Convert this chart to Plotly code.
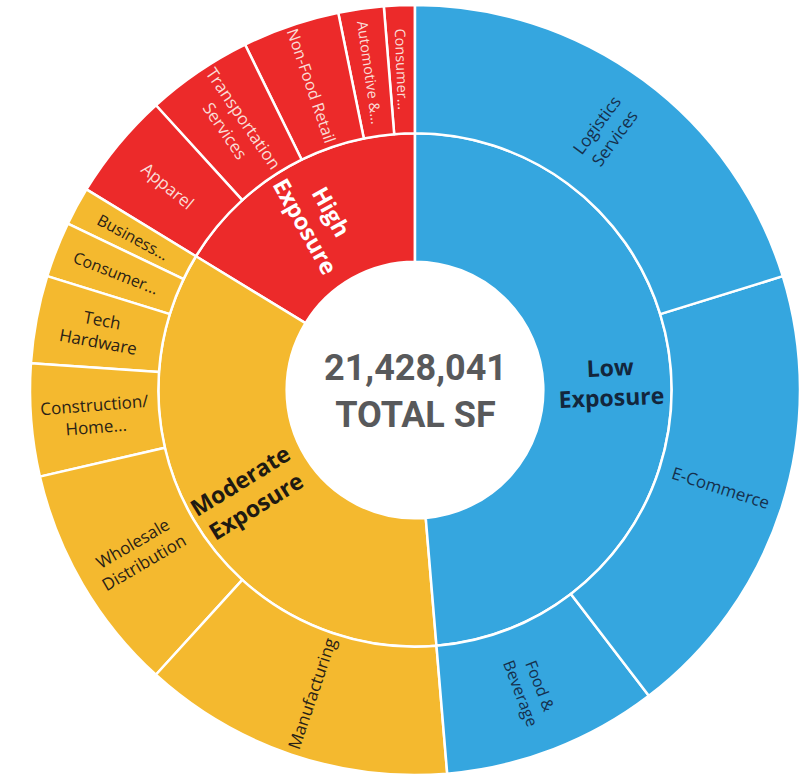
import math
import plotly.graph_objects as go

# ---- data (SF) ----
total_sf = 21428041
groups = ["Low Exposure", "Moderate Exposure", "High Exposure"]
low_labels = ["Logistics Services", "E-Commerce", "Food & Beverage"]
low_values = [4333241, 4154700, 1940400]
mod_labels = ["Manufacturing", "Wholesale Distribution", "Construction/Home...",
              "Tech Hardware", "Consumer...", "Business..."]
mod_values = [2803500, 2065400, 1011900, 785700, 500000, 345200]
high_labels = ["Apparel", "Transportation Services", "Non-Food Retail",
               "Automotive &...", "Consumer..."]
high_values = [970200, 958300, 875000, 407700, 276800]

# display text (line breaks)
low_text = ["Logistics<br>Services", "E-Commerce", "Food &<br>Beverage"]
mod_text = ["Manufacturing", "Wholesale<br>Distribution", "Construction/<br>Home...",
            "Tech<br>Hardware", "Consumer...", "Business..."]
high_text = ["Apparel", "Transportation<br>Services", "Non-Food Retail",
             "Automotive &...", "Consumer..."]
group_text = ["<b>Low<br>Exposure</b>", "<b>Moderate<br>Exposure</b>", "<b>High<br>Exposure</b>"]
low_fs = [17, 17, 16]
mod_fs = [17, 17, 17, 17, 16, 16]
high_fs = [17, 17, 16, 14.5, 14.5]

BLUE, YELLOW, RED = "#35A6DF", "#F4B92F", "#EC2A2A"
colors_g = {"Low Exposure": BLUE, "Moderate Exposure": YELLOW, "High Exposure": RED}
txtcol_g = {"Low Exposure": "#13263c", "Moderate Exposure": "#1f1a12", "High Exposure": "#ffffff"}
childtxt = {"Low Exposure": "#15304d", "Moderate Exposure": "#2a2216", "High Exposure": "#fadcd6"}

children = {
    "Low Exposure": (low_labels, low_values, low_text, low_fs),
    "Moderate Exposure": (mod_labels, mod_values, mod_text, mod_fs),
    "High Exposure": (high_labels, high_values, high_text, high_fs),
}

ids, labels, parents, values, colors = [], [], [], [], []
ids.append("root"); labels.append("Total"); parents.append(""); values.append(total_sf)
colors.append("#ffffff")

# plotly sunburst runs counter-clockwise, so add in reversed order
for g in groups[::-1]:
    labs, vals, txt, fs = children[g]
    ids.append(g); labels.append(g); parents.append("root"); values.append(sum(vals))
    colors.append(colors_g[g])
for g in groups[::-1]:
    labs, vals, txt, fs = children[g]
    for l, v in list(zip(labs, vals))[::-1]:
        ids.append(g + "/" + l); labels.append(l); parents.append(g); values.append(v)
        colors.append(colors_g[g])

W, H = 807, 780
cx, cy, R = 415, 390, 385

fig = go.Figure(go.Sunburst(
    ids=ids, labels=labels, parents=parents, values=values,
    branchvalues="total", sort=False, rotation=90,
    textinfo="none",
    leaf=dict(opacity=1),
    marker=dict(colors=colors, line=dict(color="#ffffff", width=2.5)),
    domain=dict(x=[(cx - R) / W, (cx + R) / W], y=[1 - (cy + R) / H, 1 - (cy - R) / H]),
    hoverinfo="label+value",
))


def radial_label(theta_deg, r, text, size, color):
    th = math.radians(theta_deg)
    px = cx + r * math.sin(th)
    py = cy - r * math.cos(th)
    ang = theta_deg - 90 if theta_deg < 180 else theta_deg - 270
    fig.add_annotation(
        x=px / W, y=1 - py / H, xref="paper", yref="paper", showarrow=False,
        text=text, textangle=ang, xanchor="center", yanchor="middle",
        font=dict(family="Open Sans", size=size, color=color),
    )


# labels placed at each sector's mid-angle (clockwise from 12 o'clock)
ring = R / 3.0
cum = 0.0
for g, gt in zip(groups, group_text):
    labs, vals, txt, fs = children[g]
    gsum = sum(vals)
    radial_label(360.0 * (cum + gsum / 2) / total_sf, ring * 1.53, gt, 23, txtcol_g[g])
    c2 = cum
    for v, t, s in zip(vals, txt, fs):
        radial_label(360.0 * (c2 + v / 2) / total_sf, ring * 2.5, t, s, childtxt[g])
        c2 += v
    cum += gsum

fig.add_annotation(
    x=cx / W, y=1 - (cy + 1) / H, xref="paper", yref="paper",
    text="<b>21,428,041</b><br><b>TOTAL SF</b>", showarrow=False,
    font=dict(family="Roboto", size=36, color="#58595b"),
    xanchor="center", yanchor="middle",
)

fig.update_layout(width=W, height=H, margin=dict(l=0, r=0, t=0, b=0),
                  paper_bgcolor="#ffffff", showlegend=False)

fig.write_html("out.html", config={"displayModeBar": False},
               post_script="document.body.style.margin='0';")
